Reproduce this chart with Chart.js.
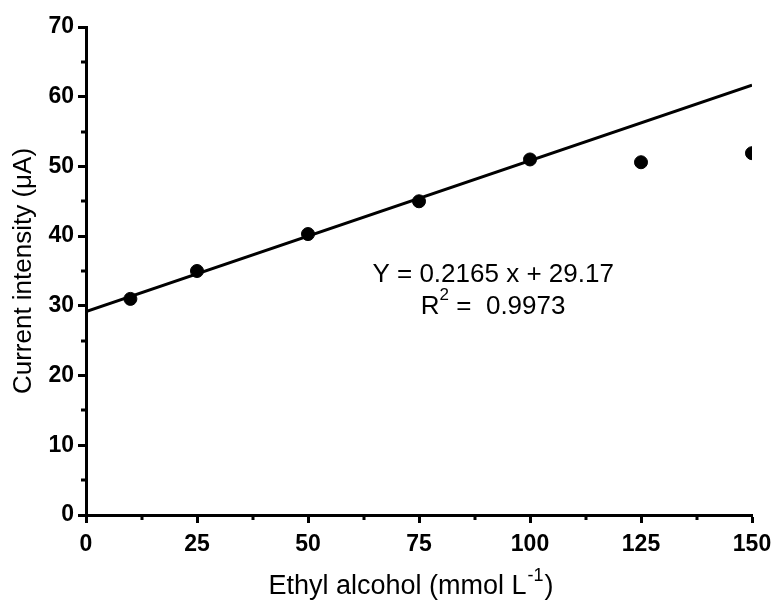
<!DOCTYPE html>
<html>
<head>
<meta charset="utf-8">
<script src="https://cdn.jsdelivr.net/npm/chart.js@4.4.1/dist/chart.umd.min.js"></script>
<style>
  html, body { margin: 0; padding: 0; background: #fff; }
  #wrap { width: 774px; height: 600px; }
</style>
</head>
<body>
<div id="wrap"><canvas id="chart" width="774" height="600"></canvas></div>
<script>
// values
const concentrations = [10, 25, 50, 75, 100, 125, 150];
const currents = [31.0, 35.0, 40.3, 45.0, 51.0, 50.6, 51.9];
const fitX = [0, 150];
const fitY = [29.17, 61.65];
const equationText = 'Y = 0.2165 x + 29.17';
const r2Value = '0.9973';
const xMinorTicks = [12.5, 37.5, 62.5, 87.5, 112.5, 137.5];
const yMinorTicks = [5, 15, 25, 35, 45, 55, 65];

const FONT = "'Liberation Sans', Arial, sans-serif";

// short minor ticks + x title with superscript + fit equation
const extrasPlugin = {
    id: 'extras',
    afterDraw(chart) {
        const ctx = chart.ctx;
        const xs = chart.scales.x;
        const ys = chart.scales.y;
        const area = chart.chartArea;

        ctx.save();
        ctx.strokeStyle = '#000';
        ctx.lineWidth = 3;
        ctx.beginPath();
        xMinorTicks.forEach(v => {
            const px = Math.round(xs.getPixelForValue(v));
            ctx.moveTo(px, area.bottom);
            ctx.lineTo(px, area.bottom + 5);
        });
        yMinorTicks.forEach(v => {
            const py = Math.round(ys.getPixelForValue(v));
            ctx.moveTo(area.left, py);
            ctx.lineTo(area.left - 5, py);
        });
        ctx.stroke();

        ctx.fillStyle = '#000';
        ctx.textBaseline = 'middle';

        // x axis title
        const main = 'Ethyl alcohol (mmol L';
        const sup = '-1';
        const close = ')';
        ctx.font = '27px ' + FONT;
        const w1 = ctx.measureText(main).width;
        const w3 = ctx.measureText(close).width;
        ctx.font = '18px ' + FONT;
        const w2 = ctx.measureText(sup).width;
        let x0 = (area.left + area.right) / 2 - (w1 + w2 + w3) / 2 - 9;
        const ty = 587;
        ctx.textAlign = 'left';
        ctx.font = '27px ' + FONT;
        ctx.fillText(main, x0, ty);
        ctx.font = '18px ' + FONT;
        ctx.fillText(sup, x0 + w1 + 1, ty - 11);
        ctx.font = '27px ' + FONT;
        ctx.fillText(close, x0 + w1 + w2 + 2, ty);

        // equation
        const ex = xs.getPixelForValue(91.7);
        ctx.textAlign = 'center';
        ctx.font = '26px ' + FONT;
        ctx.fillText(equationText, ex, ys.getPixelForValue(34.4));

        const r = 'R';
        const rest = ' =  ' + r2Value;
        const wr = ctx.measureText(r).width;
        const wrest = ctx.measureText(rest).width;
        ctx.font = '17px ' + FONT;
        const ws = ctx.measureText('2').width;
        const ry = ys.getPixelForValue(29.9);
        let rx = ex - (wr + ws + wrest) / 2;
        ctx.textAlign = 'left';
        ctx.font = '26px ' + FONT;
        ctx.fillText(r, rx, ry);
        ctx.font = '17px ' + FONT;
        ctx.fillText('2', rx + wr, ry - 11);
        ctx.font = '26px ' + FONT;
        ctx.fillText(rest, rx + wr + ws, ry);
        ctx.restore();
    }
};

const ctx = document.getElementById('chart').getContext('2d');
new Chart(ctx, {
    type: 'scatter',
    data: {
        datasets: [
            {
                label: 'Fit',
                data: fitX.map((x, i) => ({ x: x, y: fitY[i] })),
                showLine: true,
                borderColor: '#000',
                borderWidth: 3,
                pointRadius: 0,
                fill: false
            },
            {
                label: 'Measured',
                data: concentrations.map((x, i) => ({ x: x, y: currents[i] })),
                backgroundColor: '#000',
                borderColor: '#000',
                pointRadius: 6.5,
                pointHoverRadius: 6.5
            }
        ]
    },
    options: {
        responsive: false,
        animation: false,
        layout: { padding: { top: 27, right: 22, left: 0, bottom: 0 } },
        plugins: {
            legend: { display: false },
            tooltip: { enabled: false }
        },
        scales: {
            x: {
                type: 'linear',
                min: 0,
                max: 150,
                afterFit: (scale) => {
                    scale.height = 85;
                    scale.paddingLeft = 0;
                    scale.paddingRight = 0;
                },
                ticks: {
                    stepSize: 25,
                    color: '#000',
                    padding: 8,
                    maxRotation: 0,
                    font: { family: FONT, size: 23, weight: 'bold' }
                },
                grid: {
                    drawOnChartArea: false,
                    drawTicks: true,
                    tickLength: 8,
                    tickWidth: 3,
                    tickColor: '#000'
                },
                border: { display: true, color: '#000', width: 3 }
            },
            y: {
                type: 'linear',
                min: 0,
                max: 70,
                afterFit: (scale) => {
                    scale.width = 86;
                    scale.paddingTop = 0;
                    scale.paddingBottom = 0;
                },
                ticks: {
                    stepSize: 10,
                    color: '#000',
                    padding: 4,
                    font: { family: FONT, size: 23, weight: 'bold' }
                },
                grid: {
                    drawOnChartArea: false,
                    drawTicks: true,
                    tickLength: 8,
                    tickWidth: 3,
                    tickColor: '#000'
                },
                border: { display: true, color: '#000', width: 3 },
                title: {
                    display: true,
                    text: 'Current intensity (\u03bcA)',
                    color: '#000',
                    padding: { top: 8, bottom: 0 },
                    font: { family: FONT, size: 26, weight: 'normal' }
                }
            }
        }
    },
    plugins: [extrasPlugin]
});
</script>
</body>
</html>
